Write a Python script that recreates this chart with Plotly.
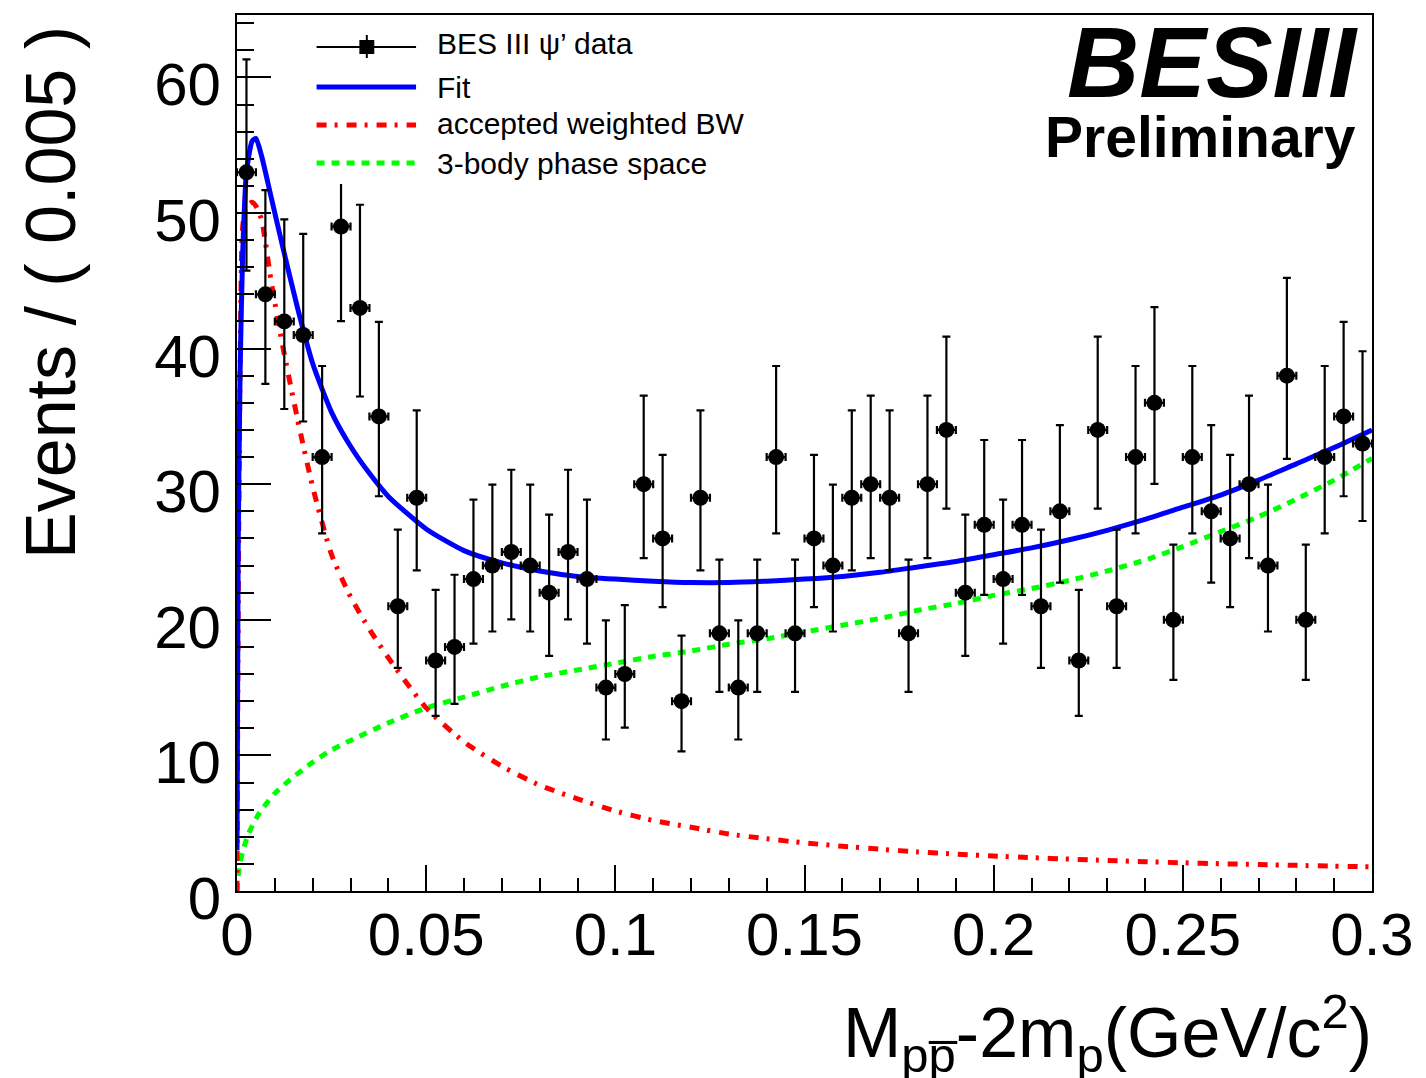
import math
import plotly.graph_objects as go

# ---------------- data ----------------
bin_width = 0.005
bin_centers = [0.0025 + 0.005 * i for i in range(60)]
counts = [53, 44, 42, 41, 32, 49, 43, 35, 21, 29,
          17, 18, 23, 24, 25, 24, 22, 25, 23, 15,
          16, 30, 26, 14, 29, 19, 15, 19, 32, 19,
          26, 24, 29, 30, 29, 19, 30, 34, 22, 27,
          23, 27, 21, 28, 17, 34, 21, 32, 36, 20,
          32, 28, 26, 30, 24, 38, 20, 32, 35, 33]

curve_x = [0, 0.0003, 0.0008, 0.0015, 0.0025, 0.004, 0.005, 0.0065, 0.009, 0.012,
           0.016, 0.02, 0.025, 0.03, 0.035, 0.04, 0.05, 0.06, 0.07, 0.08,
           0.09, 0.10, 0.11, 0.12, 0.13, 0.14, 0.15, 0.16, 0.17, 0.18,
           0.19, 0.20, 0.21, 0.22, 0.23, 0.24, 0.25, 0.26, 0.27, 0.28,
           0.29, 0.30]
fit_y = [3, 25, 38, 47, 53, 55.3, 55.5, 54.2, 51.2, 47.6,
         43.0, 38.9, 35.3, 32.8, 30.8, 29.1, 26.7, 25.1, 24.2, 23.6,
         23.2, 23.0, 22.85, 22.75, 22.75, 22.85, 23.0, 23.2, 23.5, 23.9,
         24.3, 24.8, 25.3, 25.9, 26.6, 27.4, 28.3, 29.2, 30.3, 31.5,
         32.7, 34.0]
bw_y = [0, 20, 38, 49, 50.5, 50.8, 50.5, 49.5, 45.0, 40.3,
        34.8, 29.8, 24.8, 21.7, 19.3, 17.2, 13.5, 11.0, 9.2, 7.8,
        6.8, 5.9, 5.2, 4.7, 4.2, 3.85, 3.55, 3.3, 3.08, 2.88,
        2.72, 2.58, 2.46, 2.35, 2.25, 2.16, 2.08, 2.01, 1.95, 1.89,
        1.83, 1.78]

ps_x = [0, 0.0005, 0.0015, 0.003, 0.006, 0.010, 0.014, 0.020, 0.025, 0.030,
        0.040, 0.050, 0.060, 0.070, 0.080, 0.090, 0.100, 0.110, 0.120, 0.130,
        0.140, 0.150, 0.160, 0.170, 0.180, 0.190, 0.200, 0.210, 0.220, 0.230,
        0.240, 0.250, 0.260, 0.270, 0.280, 0.290, 0.300]
ps_y = [0, 1.6, 2.9, 4.2, 5.8, 7.2, 8.2, 9.5, 10.4, 11.1,
        12.4, 13.5, 14.3, 15.1, 15.8, 16.3, 16.8, 17.3, 17.7, 18.2,
        18.6, 19.1, 19.6, 20.1, 20.7, 21.2, 21.8, 22.3, 22.9, 23.6,
        24.4, 25.4, 26.5, 27.6, 28.9, 30.3, 31.9]

x_tickvals = [0, 0.05, 0.1, 0.15, 0.2, 0.25, 0.3]
x_ticktext = ["0", "0.05", "0.1", "0.15", "0.2", "0.25", "0.3"]
y_tickvals = [0, 10, 20, 30, 40, 50, 60]
y_ticktext = ["0", "10", "20", "30", "40", "50", "60"]

legend_labels = ["BES III \u03c8\u2019 data", "Fit", "accepted weighted BW", "3-body phase space"]


# ---------------- Poisson (central 68%) intervals of the counts ----------------
def pois_cdf(n, mu):
    if mu <= 0:
        return 1.0
    s = 0.0
    for k in range(n + 1):
        s += math.exp(k * math.log(mu) - mu - math.lgamma(k + 1))
    return s


def bisect(f, lo, hi):
    for _ in range(80):
        mid = 0.5 * (lo + hi)
        if f(mid) > 0:
            lo = mid
        else:
            hi = mid
    return 0.5 * (lo + hi)


alpha = 0.158655
err_lo, err_hi = [], []
for n in counts:
    if n == 0:
        lo = 0.0
    else:
        lo = bisect(lambda mu: alpha - (1 - pois_cdf(n - 1, mu)), 0.0, n + 0.0)
    hi = bisect(lambda mu: pois_cdf(n, mu) - alpha, n + 0.0, n + 60.0)
    err_lo.append(n - lo)
    err_hi.append(hi - n)

# ---------------- geometry helpers ----------------
W, H = 1426, 1078
L, R, T, B = 237, 48, 15, 187
PW, PH = W - L - R, H - T - B


def px(xp):
    return (xp - L) / PW


def py(yp):
    return (H - B - yp) / PH


FONT = "Liberation Sans, Arial, Helvetica, sans-serif"

fig = go.Figure()

# fit components
fig.add_trace(go.Scatter(x=ps_x, y=ps_y, mode="lines", showlegend=False,
                         line=dict(color="#00ff00", width=5, dash="8px,7px",
                                   shape="spline", smoothing=0.6)))
fig.add_trace(go.Scatter(x=curve_x, y=bw_y, mode="lines", showlegend=False,
                         line=dict(color="#ff0000", width=5, dash="10px,8px,3px,9px",
                                   shape="spline", smoothing=0.6)))
fig.add_trace(go.Scatter(x=curve_x, y=fit_y, mode="lines", showlegend=False,
                         line=dict(color="#0000ff", width=5,
                                   shape="spline", smoothing=0.6)))

# data
fig.add_trace(go.Scatter(
    x=bin_centers, y=counts, mode="markers", showlegend=False,
    marker=dict(color="black", size=16, symbol="circle"),
    error_y=dict(type="data", symmetric=False, array=err_hi, arrayminus=err_lo,
                 color="black", thickness=2.2, width=4),
    error_x=dict(type="constant", value=bin_width / 2, color="black",
                 thickness=2.2, width=4),
))

axis_common = dict(showline=True, mirror=True, linecolor="black", linewidth=2,
                   showgrid=False, zeroline=False, ticks="inside", tickcolor="black",
                   tickwidth=1.5,
                   tickfont=dict(family=FONT, size=60, color="black"))

fig.update_xaxes(range=[0, 0.3], tickvals=x_tickvals, ticktext=x_ticktext,
                 ticklen=26, ticklabelstandoff=-10,
                 minor=dict(dtick=0.01, ticklen=13, ticks="inside", tickcolor="black",
                            tickwidth=1.5, showgrid=False),
                 **axis_common)
fig.update_yaxes(range=[0, 64.6], tickvals=y_tickvals, ticktext=y_ticktext,
                 ticklen=34, ticklabelstandoff=2, ticklabelshift=7,
                 minor=dict(dtick=2, ticklen=17, ticks="inside", tickcolor="black",
                            tickwidth=1.5, showgrid=False),
                 **axis_common)

# ---------------- legend (ROOT-style box) ----------------
shapes = []
shapes.append(dict(type="rect", xref="paper", yref="paper", layer="above",
                   x0=px(300), x1=px(765), y0=py(184), y1=py(22),
                   fillcolor="white", line=dict(width=0)))
lx0, lx1 = px(317), px(417)
row_y = [47, 87, 125, 163]
shapes.append(dict(type="line", xref="paper", yref="paper", layer="above",
                   x0=lx0, x1=lx1, y0=py(row_y[0]), y1=py(row_y[0]),
                   line=dict(color="black", width=2)))
shapes.append(dict(type="line", xref="paper", yref="paper", layer="above",
                   x0=px(367.5), x1=px(367.5), y0=py(35), y1=py(58),
                   line=dict(color="black", width=2)))
shapes.append(dict(type="rect", xref="paper", yref="paper", layer="above",
                   x0=px(360), x1=px(375), y0=py(54), y1=py(40),
                   fillcolor="black", line=dict(width=0)))
shapes.append(dict(type="line", xref="paper", yref="paper", layer="above",
                   x0=lx0, x1=lx1, y0=py(row_y[1]), y1=py(row_y[1]),
                   line=dict(color="#0000ff", width=5)))
shapes.append(dict(type="line", xref="paper", yref="paper", layer="above",
                   x0=lx0, x1=lx1, y0=py(row_y[2]), y1=py(row_y[2]),
                   line=dict(color="#ff0000", width=5, dash="10px,8px,3px,9px")))
shapes.append(dict(type="line", xref="paper", yref="paper", layer="above",
                   x0=lx0, x1=lx1, y0=py(row_y[3]), y1=py(row_y[3]),
                   line=dict(color="#00ff00", width=5, dash="8px,7px")))

annotations = []
text_y = [43, 87, 124, 163]
for lab, ty in zip(legend_labels, text_y):
    annotations.append(dict(text=lab, xref="paper", yref="paper", x=px(436), y=py(ty),
                            xanchor="left", yanchor="middle", showarrow=False,
                            font=dict(family=FONT, size=30, color="black")))

# BESIII / Preliminary
annotations.append(dict(text="<b><i>BESIII</i></b>", xref="paper", yref="paper",
                        x=px(1366), y=py(62), xanchor="right", yanchor="middle",
                        showarrow=False, font=dict(family=FONT, size=100, color="black")))
annotations.append(dict(text="<b>Preliminary</b>", xref="paper", yref="paper",
                        x=px(1364), y=py(137), xanchor="right", yanchor="middle",
                        showarrow=False, font=dict(family=FONT, size=57, color="black")))

# axis titles
annotations.append(dict(text="Events / ( 0.005 )", xref="paper", yref="paper",
                        x=px(50), y=py(292), xanchor="center", yanchor="middle",
                        textangle=-90, showarrow=False,
                        font=dict(family=FONT, size=70, color="black")))
annotations.append(dict(text="M<sub>pp\u0305</sub>-2m<sub>p</sub>(GeV/c<sup>2</sup>)",
                        xref="paper", yref="paper",
                        x=px(1380), y=py(1033), xanchor="right", yanchor="middle",
                        showarrow=False,
                        font=dict(family=FONT, size=70, color="black")))

fig.update_layout(width=W, height=H, autosize=False,
                  margin=dict(l=L, r=R, t=T, b=B),
                  plot_bgcolor="white", paper_bgcolor="white",
                  shapes=shapes, annotations=annotations, showlegend=False)

fig.write_html("out.html")
